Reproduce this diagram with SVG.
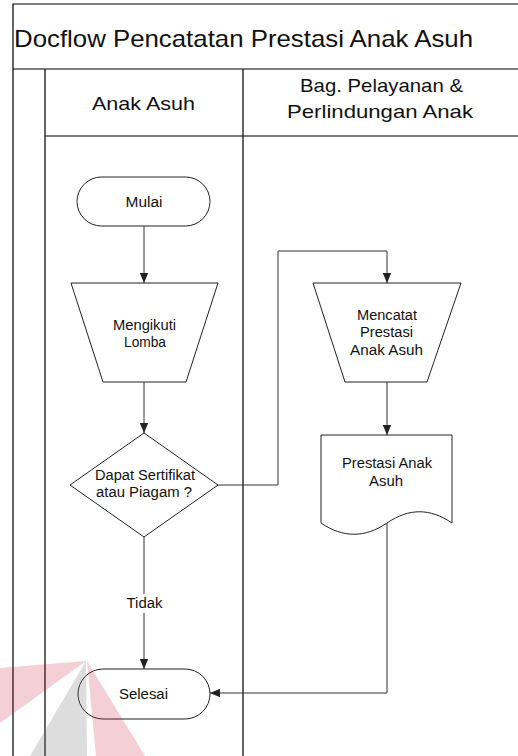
<svg xmlns="http://www.w3.org/2000/svg" width="518" height="756" viewBox="0 0 518 756">
<defs>
<marker id="arr" viewBox="0 0 10 10" refX="10" refY="5" markerWidth="10" markerHeight="10" markerUnits="userSpaceOnUse" orient="auto">
<path d="M0,0.8 L10,5 L0,9.2 Z" fill="#222"/>
</marker>
<style>
.frame{stroke:#000;stroke-width:1.2;fill:none}
.shape{stroke:#222;stroke-width:1;fill:#fff}
.conn{stroke:#333;stroke-width:1;fill:none}
text{font-family:"Liberation Sans",Arial,sans-serif;fill:#111}
.t{font-size:14px;text-anchor:middle}
.h{font-size:19px;text-anchor:middle}
</style>
</defs>
<rect width="518" height="756" fill="#fff"/>
<g id="frame">
<path class="frame" d="M13,756 V4 H518 M13,69 H518 M45,69 V756 M243,69 V756 M45,136 H518"/>
<text x="14" y="47" style="font-size:24px" textLength="459" lengthAdjust="spacingAndGlyphs">Docflow Pencatatan Prestasi Anak Asuh</text>
<text class="h" x="143.5" y="109.5" textLength="103" lengthAdjust="spacingAndGlyphs">Anak Asuh</text>
<text class="h" x="381.5" y="91.7" textLength="163" lengthAdjust="spacingAndGlyphs">Bag. Pelayanan &amp;</text>
<text class="h" x="380" y="117.7" textLength="186" lengthAdjust="spacingAndGlyphs">Perlindungan Anak</text>
</g>
<g id="connectors">
<path class="conn" d="M144,226 V283" marker-end="url(#arr)"/>
<path class="conn" d="M144,382 V433" marker-end="url(#arr)"/>
<path class="conn" d="M218,485 H278 V251 H387 V283" marker-end="url(#arr)"/>
<path class="conn" d="M387,382 V435" marker-end="url(#arr)"/>
<path class="conn" d="M144,537 V669" marker-end="url(#arr)"/>
<path class="conn" d="M387,523 V693 H210" marker-end="url(#arr)"/>
<rect x="122" y="594" width="44" height="19" fill="#fff"/>
<text class="t" x="144.5" y="608" textLength="36" lengthAdjust="spacingAndGlyphs">Tidak</text>
</g>
<g id="mulai">
<rect class="shape" x="77" y="177" width="133" height="49" rx="24.5"/>
<text class="t" x="144" y="206.7" textLength="37" lengthAdjust="spacingAndGlyphs">Mulai</text>
</g>
<g id="mengikuti">
<path class="shape" d="M71,283 H218 L186,382 H103 Z"/>
<text class="t" x="144.5" y="330" textLength="63" lengthAdjust="spacingAndGlyphs">Mengikuti</text>
<text class="t" x="145" y="347" textLength="42" lengthAdjust="spacingAndGlyphs">Lomba</text>
</g>
<g id="keputusan">
<path class="shape" d="M144,433 L218,485 L144,537 L70,485 Z"/>
<text class="t" x="145" y="480" textLength="100" lengthAdjust="spacingAndGlyphs">Dapat Sertifikat</text>
<text class="t" x="144" y="497" textLength="96" lengthAdjust="spacingAndGlyphs">atau Piagam ?</text>
</g>
<g id="mencatat">
<path class="shape" d="M313,283 H461 L427,382 H345 Z"/>
<text class="t" x="387" y="320" textLength="60" lengthAdjust="spacingAndGlyphs">Mencatat</text>
<text class="t" x="386.5" y="337" textLength="53" lengthAdjust="spacingAndGlyphs">Prestasi</text>
<text class="t" x="386.5" y="355" textLength="73" lengthAdjust="spacingAndGlyphs">Anak Asuh</text>
</g>
<g id="dokumen">
<path class="shape" d="M321,435 H452 V523 C430,508 409,508 387,523 C365,538 343,538 321,523 Z"/>
<text class="t" x="387" y="468" textLength="90" lengthAdjust="spacingAndGlyphs">Prestasi Anak</text>
<text class="t" x="386" y="486" textLength="34" lengthAdjust="spacingAndGlyphs">Asuh</text>
</g>
<g id="selesai">
<rect class="shape" x="78" y="669" width="132" height="50" rx="25"/>
<text class="t" x="143.5" y="699" textLength="49" lengthAdjust="spacingAndGlyphs">Selesai</text>
</g>
<g id="watermark">
<polygon points="0,668 86,661 0,723" fill="#c8102e" opacity="0.2"/>
<polygon points="86,661 30,756 87,756" fill="#777" opacity="0.25"/>
<polygon points="87,661 145,756 96,756" fill="#c8102e" opacity="0.2"/>
</g>
</svg>
